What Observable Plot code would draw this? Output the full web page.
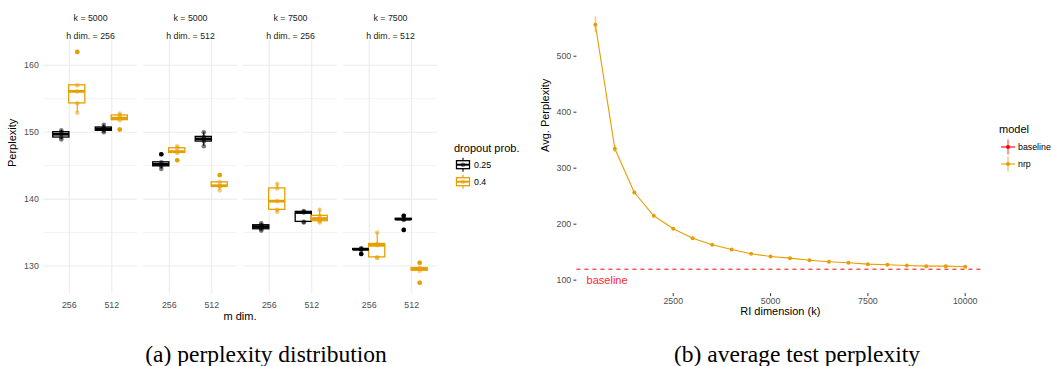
<!DOCTYPE html>
<html><head><meta charset="utf-8">
<script src="https://cdn.jsdelivr.net/npm/d3@7"></script>
<script src="https://cdn.jsdelivr.net/npm/@observablehq/plot@0.6"></script>
<style>
html,body{margin:0;padding:0;background:#fff;}
#wrap{position:relative;width:1052px;height:366px;overflow:hidden;font-family:"Liberation Sans",Arial,sans-serif;}
#left{position:absolute;left:0;top:0;}
#right{position:absolute;left:530px;top:0;}
#overlay{position:absolute;left:0;top:0;}
</style></head>
<body><div id="wrap"><div id="left"></div><div id="right"></div><svg id="overlay" width="1052" height="366"></svg></div>
<script>
// ---------- (a) perplexity distribution ----------
const kValues = [5000, 5000, 7500, 7500];
const hDims = [256, 512, 256, 512];
const mDims = [256, 512];
const dropoutProbs = ["0.25", "0.4"];
// runs per facet -> [m dim 256, m dim 512]
const runsDropout025 = [
  [[148.9, 149.2, 149.7, 150.0, 150.3], [150.0, 150.2, 150.5, 150.7, 151.1]],
  [[144.5, 144.9, 145.2, 145.5, 146.7], [147.9, 148.6, 149.0, 149.3, 150.0]],
  [[135.3, 135.5, 135.9, 136.1, 136.4], [136.5, 136.6, 138.0, 138.1, 138.2]],
  [[131.8, 132.4, 132.5, 132.55, 132.7], [135.4, 136.9, 137.0, 137.05, 137.5]]
];
const runsDropout04 = [
  [[152.9, 154.3, 156.1, 157.0, 162.0], [150.4, 151.8, 152.1, 152.5, 152.8]],
  [[145.8, 146.9, 147.1, 147.6, 147.9], [141.3, 141.9, 142.0, 142.5, 143.6]],
  [[138.1, 138.4, 139.7, 141.6, 142.3], [136.5, 136.7, 137.1, 137.5, 138.4]],
  [[131.2, 131.3, 133.1, 133.3, 135.0], [127.5, 129.3, 129.6, 129.7, 130.5]]
];
const leftYTicks = [130, 140, 150, 160];
const leftYMinor = [135, 145, 155];
const dropoutColors = ["#000000", "#E69F00"];

// ---------- (b) average test perplexity ----------
const riDims = [500, 1000, 1500, 2000, 2500, 3000, 3500, 4000, 4500, 5000,
                5500, 6000, 6500, 7000, 7500, 8000, 8500, 9000, 9500, 10000];
const avgPerplexity = [556, 334.6, 256.6, 215.0, 191.8, 175.0, 163.2, 154.8, 147.1, 142.3,
                       139.3, 135.7, 132.8, 131.0, 128.6, 127.5, 126.2, 125.0, 125.0, 123.9];
const avgPerplexityErr = [14, 6, 3, 2.5, 2, 2, 1.5, 1.5, 1.5, 1.5,
                          1.5, 1.5, 1.5, 1.5, 1.5, 1.5, 1.5, 1.5, 1.5, 1.5];
const baselinePerplexity = [119.6];
const baselineLabel = [{k: 800, v: 100, text: "baseline"}];
const rightYTicks = [100, 200, 300, 400, 500];
const rightXTicks = [2500, 5000, 7500, 10000];
const models = ["baseline", "nrp"];
const modelColors = ["#FF0000", "#E69F00"];

const captions = ["(a) perplexity distribution", "(b) average test perplexity"];

const FONT = "'Liberation Sans', Arial, sans-serif";

// ---- build box stats ----
const facetKeys = kValues.map((k, i) => `k = ${k}|h dim. = ${hDims[i]}`);
const dodge = 0.1875, boxHalf = 0.19;
const boxRows = [], pointRows = [];
facetKeys.forEach((fk, fi) => {
  mDims.forEach((m, mi) => {
    [runsDropout025, runsDropout04].forEach((runs, di) => {
      const vals = runs[fi][mi].slice().sort(d3.ascending);
      const q1 = d3.quantile(vals, 0.25), med = d3.quantile(vals, 0.5), q3 = d3.quantile(vals, 0.75);
      const iqr = q3 - q1, lf = q1 - 1.5 * iqr, uf = q3 + 1.5 * iqr;
      const inside = vals.filter(v => v >= lf && v <= uf);
      const xc = mi + 1 + (di === 0 ? -dodge : dodge);
      boxRows.push({facet: fk, drop: dropoutProbs[di], xc, xl: xc - boxHalf, xr: xc + boxHalf,
                    q1, med, q3, lo: d3.min(inside), hi: d3.max(inside)});
      vals.forEach(v => pointRows.push({facet: fk, drop: dropoutProbs[di], xc, v, outlier: v < lf || v > uf}));
    });
  });
});

const left = Plot.plot({
  width: 530, height: 322,
  marginLeft: 43.3, marginRight: 93.3, marginTop: 40, marginBottom: 29,
  style: {fontFamily: FONT, background: "white", overflow: "visible"},
  fx: {domain: facetKeys, paddingInner: 0.065, paddingOuter: 0, round: false, axis: null},
  x: {domain: [0.4, 2.6], axis: null},
  y: {domain: [125.9, 163.7], axis: null},
  color: {domain: dropoutProbs, range: dropoutColors},
  marks: [
    Plot.gridY(leftYMinor, {stroke: "#ebebeb", strokeOpacity: 1, strokeWidth: 0.6}),
    Plot.gridY(leftYTicks, {stroke: "#ebebeb", strokeOpacity: 1, strokeWidth: 1.1}),
    Plot.gridX([1, 2], {stroke: "#ebebeb", strokeOpacity: 1, strokeWidth: 1.1}),
    Plot.axisY({ticks: leftYTicks, tickSize: 0, tickPadding: 5, fontSize: 8.8, color: "#4d4d4d", label: null}),
    Plot.axisX({ticks: [1, 2], tickFormat: d => String(mDims[d - 1]), tickSize: 0, tickPadding: 8, fontSize: 8.8, color: "#4d4d4d", label: null}),
    Plot.text(facetKeys, {fx: d => d, text: d => d.split("|")[0], frameAnchor: "top", dy: -26, fontSize: 8.8, fill: "#1a1a1a"}),
    Plot.text(facetKeys, {fx: d => d, text: d => d.split("|")[1], frameAnchor: "top", dy: -8, fontSize: 8.8, fill: "#1a1a1a"}),
    Plot.text(["Perplexity"], {fx: () => facetKeys[0], text: d => d, frameAnchor: "left", dx: -31, rotate: -90, fontSize: 11, fill: "black"}),
    Plot.ruleX(boxRows, {fx: "facet", x: "xc", y1: "lo", y2: "q1", stroke: "drop", strokeWidth: 1.1}),
    Plot.ruleX(boxRows, {fx: "facet", x: "xc", y1: "q3", y2: "hi", stroke: "drop", strokeWidth: 1.1}),
    Plot.rect(boxRows, {fx: "facet", x1: "xl", x2: "xr", y1: "q1", y2: "q3", fill: "white", stroke: "drop", strokeWidth: 1.3}),
    Plot.ruleY(boxRows, {fx: "facet", x1: "xl", x2: "xr", y: "med", stroke: "drop", strokeWidth: 2.8}),
    Plot.dot(pointRows.filter(d => d.outlier), {fx: "facet", x: "xc", y: "v", r: 2.3, fill: "drop", stroke: "none"}),
    Plot.dot(pointRows, {fx: "facet", x: "xc", y: "v", r: 2.3, fill: "drop", fillOpacity: 0.5, stroke: "none"})
  ]
});
document.getElementById("left").appendChild(left);

// ---- right chart ----
const lineRows = riDims.map((k, i) => ({k, v: avgPerplexity[i], e: avgPerplexityErr[i]}));
const right = Plot.plot({
  width: 522, height: 322,
  marginLeft: 46.4, marginRight: 68.8, marginTop: 9.8, marginBottom: 28.9,
  style: {fontFamily: FONT, background: "white", overflow: "visible"},
  x: {domain: [25, 10475], axis: null},
  y: {domain: [76, 582], axis: null},
  marks: [
    Plot.axisY({ticks: rightYTicks, tickSize: 3, tickPadding: 2.7, fontSize: 8.8, color: "#4d4d4d", stroke: "#333333", label: null}),
    Plot.axisX({ticks: rightXTicks, tickFormat: d3.format("d"), tickSize: 3, tickPadding: 1.5, fontSize: 8.8, color: "#4d4d4d", stroke: "#333333", label: null}),
    Plot.ruleY(baselinePerplexity, {y: d => d, stroke: modelColors[0], strokeWidth: 1, strokeDasharray: "4,4"}),
    Plot.ruleX(lineRows, {x: "k", y1: d => d.v - d.e, y2: d => d.v + d.e, stroke: modelColors[1], strokeOpacity: 0.5, strokeWidth: 1.6}),
    Plot.line(lineRows, {x: "k", y: "v", stroke: modelColors[1], strokeWidth: 1.1}),
    Plot.dot(lineRows, {x: "k", y: "v", r: 2, fill: modelColors[1], stroke: "none"}),
    Plot.text(baselineLabel, {x: "k", y: "v", text: "text", fill: "#ff2a2a", fontSize: 11}),
    Plot.text(["Avg. Perplexity"], {text: d => d, frameAnchor: "left", dx: -31.4, rotate: -90, fontSize: 11, fill: "black"}),
    Plot.text(["RI dimension (k)"], {text: d => d, frameAnchor: "bottom", dy: 21.8, fontSize: 11, fill: "black"})
  ]
});
document.getElementById("right").appendChild(right);

// ---- overlay: shared axis title, legends, captions ----
const ov = d3.select("#overlay").style("font-family", FONT);
function label(x, y, s, size, anchor = "start", fill = "black") {
  ov.append("text").attr("x", x).attr("y", y).attr("dy", "0.35em").attr("font-size", size)
    .attr("text-anchor", anchor).attr("fill", fill).text(s);
}
label(240, 316.5, "m dim.", 11, "middle");

// dropout legend
label(454, 148.3, "dropout prob.", 11);
dropoutProbs.forEach((p, i) => {
  const cy = 164.7 + i * 17, c = dropoutColors[i];
  const g = ov.append("g");
  g.append("line").attr("x1", 463).attr("x2", 463).attr("y1", cy - 7).attr("y2", cy + 7).attr("stroke", c).attr("stroke-width", 1.1);
  g.append("rect").attr("x", 456.5).attr("y", cy - 4).attr("width", 13).attr("height", 8).attr("fill", "white").attr("stroke", c).attr("stroke-width", 1.3);
  g.append("line").attr("x1", 456.5).attr("x2", 469.5).attr("y1", cy).attr("y2", cy).attr("stroke", c).attr("stroke-width", 2);
  g.append("circle").attr("cx", 463).attr("cy", cy).attr("r", 2.3).attr("fill", c).attr("fill-opacity", 0.5);
  label(474, cy, p, 8.8);
});

// model legend
label(999, 129.3, "model", 11);
models.forEach((m, i) => {
  const cy = 147 + i * 17, c = modelColors[i];
  ov.append("line").attr("x1", 1008).attr("x2", 1008).attr("y1", cy - 7.5).attr("y2", cy + 7.5).attr("stroke", c).attr("stroke-opacity", 0.5).attr("stroke-width", 1.6);
  ov.append("line").attr("x1", 1001).attr("x2", 1015).attr("y1", cy).attr("y2", cy).attr("stroke", c).attr("stroke-width", 1.1);
  ov.append("circle").attr("cx", 1008).attr("cy", cy).attr("r", 2).attr("fill", c);
  label(1018, cy, m, 8.8);
});

// captions
[266, 797].forEach((x, i) => {
  ov.append("text").attr("x", x).attr("y", 361.5).attr("text-anchor", "middle")
    .attr("font-family", "'Liberation Serif', 'Times New Roman', serif").attr("font-size", 23.5)
    .attr("fill", "black").text(captions[i]);
});
</script></body></html>
